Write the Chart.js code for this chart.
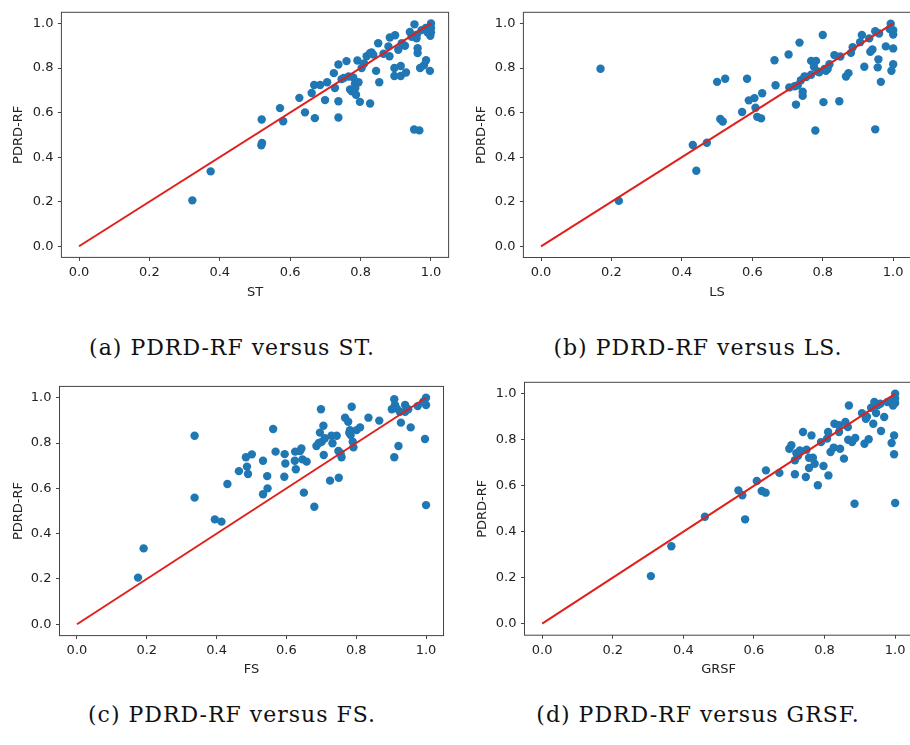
<!DOCTYPE html>
<html>
<head>
<meta charset="utf-8">
<script src="https://cdn.jsdelivr.net/npm/chart.js@4.4.0/dist/chart.umd.min.js"></script>
<style>
  html, body { margin: 0; padding: 0; background: #fff; width: 910px; height: 745px; overflow: hidden; position: relative; }
  canvas { position: absolute; }
  .caption { position: absolute; transform: translateX(-50%); white-space: nowrap;
             font-family: 'DejaVu Serif', serif; font-size: 22px; letter-spacing: 1px; color: #111; line-height: 22px; }
</style>
</head>
<body>
<canvas id="chartST" width="455" height="300" style="left:0px; top:0px;"></canvas>
<canvas id="chartLS" width="460" height="300" style="left:455px; top:0px;"></canvas>
<canvas id="chartFS" width="455" height="310" style="left:0px; top:370px;"></canvas>
<canvas id="chartGRSF" width="462" height="310" style="left:455px; top:370px;"></canvas>

<div class="caption" style="left:232px; top:337px;">(a) PDRD-RF versus ST.</div>
<div class="caption" style="left:698px; top:337px;">(b) PDRD-RF versus LS.</div>
<div class="caption" style="left:232px; top:704px;">(c) PDRD-RF versus FS.</div>
<div class="caption" style="left:698px; top:704px;">(d) PDRD-RF versus GRSF.</div>

<script>
//################# Data: [method score, PDRD-RF score] #################
const stPoints = [
    [0.322, 0.206], [0.374, 0.336], [0.519, 0.569], [0.52, 0.464], [0.518, 0.453],
    [0.571, 0.62], [0.58, 0.561], [0.626, 0.666], [0.642, 0.601], [0.661, 0.688],
    [0.668, 0.724], [0.670, 0.575], [0.685, 0.724], [0.699, 0.656], [0.705, 0.736],
    [0.724, 0.777], [0.727, 0.710], [0.737, 0.816], [0.737, 0.651], [0.737, 0.578],
    [0.746, 0.75], [0.752, 0.755], [0.76, 0.831], [0.766, 0.762], [0.77, 0.704],
    [0.775, 0.695], [0.779, 0.758], [0.784, 0.729], [0.787, 0.68], [0.791, 0.834],
    [0.794, 0.736], [0.798, 0.648], [0.803, 0.80], [0.817, 0.853], [0.827, 0.641],
    [0.831, 0.870], [0.844, 0.787], [0.85, 0.911], [0.853, 0.736], [0.865, 0.864],
    [0.882, 0.853], [0.883, 0.937], [0.898, 0.947], [0.896, 0.80], [0.896, 0.764],
    [0.907, 0.882], [0.914, 0.809], [0.914, 0.764], [0.926, 0.9], [0.929, 0.78],
    [0.94, 0.962], [0.953, 0.996], [0.959, 0.933], [0.962, 0.889], [0.962, 0.867],
    [0.952, 0.524], [0.967, 0.52], [0.969, 0.80], [0.980, 0.812], [0.986, 0.835],
    [0.997, 0.787], [1.0, 1.0], [1.0, 0.98], [1.0, 0.96], [0.998, 0.945],
    [0.973, 0.97], [0.985, 0.98], [0.99, 0.96], [0.96, 0.95], [0.945, 0.94],
    [0.917, 0.911], [0.879, 0.897], [0.836, 0.86], [0.827, 0.867], [0.81, 0.82],
    [0.785, 0.71]
];

const lsPoints = [
    [0.169, 0.797], [0.221, 0.204], [0.431, 0.455], [0.441, 0.339], [0.471, 0.465],
    [0.5, 0.738], [0.523, 0.752], [0.509, 0.571], [0.516, 0.56], [0.571, 0.603],
    [0.585, 0.752], [0.590, 0.655], [0.606, 0.665], [0.609, 0.622], [0.614, 0.581],
    [0.625, 0.574], [0.628, 0.687], [0.663, 0.835], [0.666, 0.723], [0.703, 0.861],
    [0.705, 0.713], [0.72, 0.718], [0.724, 0.636], [0.734, 0.914], [0.743, 0.694],
    [0.743, 0.675], [0.748, 0.762], [0.738, 0.745], [0.767, 0.832], [0.781, 0.832],
    [0.775, 0.806], [0.779, 0.52], [0.786, 0.785], [0.767, 0.77], [0.79, 0.781],
    [0.8, 0.948], [0.802, 0.647], [0.809, 0.788], [0.814, 0.796], [0.819, 0.817],
    [0.833, 0.858], [0.847, 0.651], [0.85, 0.852], [0.866, 0.762], [0.873, 0.777],
    [0.880, 0.868], [0.885, 0.893], [0.911, 0.948], [0.906, 0.916], [0.918, 0.806],
    [0.935, 0.873], [0.941, 0.883], [0.932, 0.933], [0.949, 0.965], [0.949, 0.525],
    [0.956, 0.803], [0.958, 0.839], [0.965, 0.738], [0.96, 0.955], [0.979, 0.897],
    [0.993, 0.999], [0.995, 0.788], [1.0, 0.817], [1.0, 0.888], [1.0, 0.97],
    [1.0, 0.95], [0.99, 0.975], [0.729, 0.723], [0.753, 0.76], [0.805, 0.796]
];

const fsPoints = [
    [0.175, 0.206], [0.191, 0.335], [0.337, 0.832], [0.337, 0.559], [0.395, 0.463],
    [0.414, 0.453], [0.431, 0.619], [0.464, 0.676], [0.484, 0.737], [0.487, 0.696],
    [0.490, 0.663], [0.501, 0.75], [0.533, 0.722], [0.533, 0.574], [0.545, 0.654],
    [0.546, 0.60], [0.562, 0.862], [0.569, 0.762], [0.595, 0.751], [0.597, 0.710],
    [0.594, 0.651], [0.625, 0.762], [0.627, 0.684], [0.624, 0.722], [0.639, 0.765],
    [0.643, 0.776], [0.646, 0.728], [0.65, 0.581], [0.658, 0.718], [0.680, 0.519],
    [0.686, 0.787], [0.696, 0.846], [0.699, 0.949], [0.701, 0.805], [0.706, 0.876],
    [0.707, 0.747], [0.71, 0.821], [0.725, 0.634], [0.729, 0.832], [0.732, 0.799],
    [0.744, 0.832], [0.749, 0.765], [0.750, 0.647], [0.758, 0.737], [0.768, 0.912],
    [0.777, 0.894], [0.782, 0.857], [0.787, 0.960], [0.784, 0.835], [0.790, 0.806],
    [0.792, 0.781], [0.801, 0.857], [0.811, 0.869], [0.835, 0.912], [0.866, 0.899],
    [0.902, 0.949], [0.909, 0.993], [0.909, 0.737], [0.911, 0.968], [0.916, 0.953],
    [0.921, 0.787], [0.928, 0.89], [0.925, 0.938], [0.94, 0.968], [0.94, 0.938],
    [0.949, 0.949], [0.956, 0.869], [0.976, 0.963], [0.997, 0.818], [1.0, 0.526],
    [1.0, 1.0], [1.0, 0.968], [0.992, 0.982], [0.693, 0.80], [0.78, 0.845],
    [0.755, 0.755]
];

const grsfPoints = [
    [0.308, 0.207], [0.366, 0.337], [0.461, 0.465], [0.556, 0.580], [0.567, 0.559],
    [0.575, 0.454], [0.608, 0.621], [0.622, 0.577], [0.633, 0.570], [0.634, 0.667],
    [0.672, 0.656], [0.70, 0.761], [0.706, 0.776], [0.716, 0.711], [0.716, 0.650],
    [0.720, 0.742], [0.730, 0.754], [0.739, 0.834], [0.747, 0.638], [0.749, 0.757],
    [0.756, 0.677], [0.756, 0.722], [0.763, 0.819], [0.767, 0.722], [0.772, 0.696],
    [0.781, 0.602], [0.797, 0.686], [0.807, 0.805], [0.81, 0.834], [0.811, 0.645],
    [0.817, 0.747], [0.826, 0.766], [0.828, 0.870], [0.841, 0.834], [0.841, 0.863],
    [0.844, 0.761], [0.855, 0.718], [0.859, 0.877], [0.866, 0.855], [0.869, 0.949],
    [0.867, 0.80], [0.878, 0.79], [0.885, 0.522], [0.887, 0.808], [0.906, 0.916],
    [0.913, 0.783], [0.917, 0.891], [0.925, 0.802], [0.932, 0.939], [0.938, 0.870],
    [0.941, 0.964], [0.946, 0.916], [0.958, 0.957], [0.96, 0.838], [0.969, 0.899],
    [0.978, 0.964], [0.99, 0.786], [0.997, 0.819], [0.997, 0.737], [1.0, 0.525],
    [1.0, 1.0], [1.0, 0.98], [1.0, 0.96], [0.988, 0.971], [0.994, 0.949],
    [0.725, 0.73], [0.79, 0.79], [0.92, 0.90], [0.95, 0.95]
];

// identity line y = x
const diagX = [0, 1];
const diagY = [0, 1];

// tick labels shared by both axes
const tickVals = [0.0, 0.2, 0.4, 0.6, 0.8, 1.0];
const yLabel = 'PDRD-RF';

const dotBlue = '#1f77b4';
const lineRed = '#e0201c';
const frameColor = '#444';
const textColor = '#222';
const tickFont = { family: 'DejaVu Sans', size: 13 };

//################# Plugin to draw the full box round the axes #################
const framePlugin = {
    id: 'frame',
    afterDatasetsDraw(chart) {
        const { ctx, chartArea: a } = chart;
        ctx.save();
        ctx.strokeStyle = frameColor;
        ctx.lineWidth = 1;
        ctx.strokeRect(a.left, a.top, a.right - a.left, a.bottom - a.top);
        ctx.restore();
    },
};

//################# Function to create one panel #################
const makePanel = (id, points, xLabel, geo) => {
    new Chart(document.getElementById(id), {
        type: 'scatter',
        data: {
            datasets: [
                {
                    data: diagX.map((x, i) => ({ x: x, y: diagY[i] })),
                    showLine: true,
                    borderColor: lineRed,
                    borderWidth: 2,
                    pointRadius: 0,
                    order: 0,
                },
                {
                    data: points.map(p => ({ x: p[0], y: p[1] })),
                    backgroundColor: dotBlue,
                    borderWidth: 0,
                    pointRadius: 4.2,
                    order: 1,
                },
            ],
        },
        options: {
            responsive: false,
            animation: false,
            layout: { padding: { top: geo.top, right: geo.right, left: 0, bottom: 0 } },
            plugins: { legend: { display: false }, tooltip: { enabled: false } },
            scales: {
                x: {
                    type: 'linear',
                    min: -0.05,
                    max: 1.05,
                    afterBuildTicks: s => { s.ticks = tickVals.map(v => ({ value: v })); },
                    afterFit: s => { s.height = geo.xh; },
                    ticks: { callback: v => v.toFixed(1), font: tickFont, color: textColor, padding: 4, maxRotation: 0 },
                    grid: { drawOnChartArea: false, drawTicks: true, tickLength: 3.5, color: frameColor },
                    border: { display: false },
                    title: { display: true, text: xLabel, font: tickFont, color: textColor, padding: { top: 0, bottom: geo.xtPad } },
                },
                y: {
                    type: 'linear',
                    min: -0.05,
                    max: 1.05,
                    afterBuildTicks: s => { s.ticks = tickVals.map(v => ({ value: v })); },
                    afterFit: s => { s.width = geo.yw; },
                    ticks: { callback: v => v.toFixed(1), font: tickFont, color: textColor, padding: 4.5 },
                    grid: { drawOnChartArea: false, drawTicks: true, tickLength: 3.5, color: frameColor },
                    border: { display: false },
                    title: { display: true, text: yLabel, font: tickFont, color: textColor, padding: { top: geo.ytPad, bottom: 0 } },
                },
            },
        },
        plugins: [framePlugin],
    });
};

//################# Build the four panels #################
makePanel('chartST', stPoints, 'ST', { yw: 61.4, xh: 42.6, top: 6.3, right: 6.4, ytPad: 11, xtPad: 0 });
makePanel('chartLS', lsPoints, 'LS', { yw: 68.4, xh: 42.5, top: 4.5, right: 3.4, ytPad: 18.7, xtPad: 0 });
makePanel('chartFS', fsPoints, 'FS', { yw: 59.5, xh: 44.4, top: 16.4, right: 11.5, ytPad: 10.5, xtPad: 3 });
makePanel('chartGRSF', grsfPoints, 'GRSF', { yw: 69.5, xh: 44.8, top: 11.8, right: 1.5, ytPad: 19.7, xtPad: 3 });
</script>
</body>
</html>
